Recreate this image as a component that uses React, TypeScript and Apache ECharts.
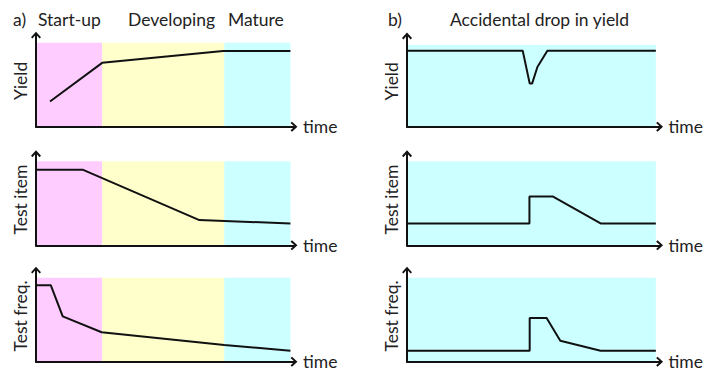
import React, { useEffect, useRef } from 'react';
import * as echarts from 'echarts';

// Phase boundaries (time units, 0..100) and styling names for panel a)
const phaseBounds = [0, 26, 74, 100];
const phaseNames = ['Start-up', 'Developing', 'Mature'];
const panelTitles = ['a)', 'b)'];
const titleB = 'Accidental drop in yield';
const yNames = ['Yield', 'Test item', 'Test freq.'];
const xName = 'time';

// Panel a) series  [time, value]
const yieldA = [[5.5, 30], [26, 76], [73.5, 90], [100, 90]];
const testItemA = [[0, 90], [18.3, 90], [64.2, 30], [100, 26]];
const testFreqA = [[0, 91], [5.8, 91], [10.5, 54], [25.8, 35], [74, 20], [100, 13]];

// Panel b) series
const yieldB = [[0, 93], [46.5, 93], [49.3, 53], [50.3, 53], [52.4, 73], [56.4, 93], [100, 93]];
const testItemB = [[0, 26], [49.2, 26], [49.2, 58], [58.7, 58], [77.8, 26], [100, 26]];
const testFreqB = [[0, 13], [49.3, 13], [49.3, 52], [56.1, 52], [61.6, 25], [77.8, 13], [100, 13]];

const PINK = '#FFCCFF';
const YELLOW = '#FFFFCC';
const CYAN = '#CCFFFF';
const INK = '#111111';
const TEXT = '#222222';
const FONT = 'Lato';
const CHEVRON = 'path://M5,0L10,5.5L8.6,6.9L5,2.9L1.4,6.9L0,5.5Z';

export default function App() {
  const ref = useRef<HTMLDivElement>(null);

  useEffect(() => {
    if (!ref.current) return;
    const chart = echarts.init(ref.current, undefined, { renderer: 'svg' });

    const grids = [
      { left: 36, top: 35.1, width: 258, height: 91.6 },
      { left: 36, top: 153.7, width: 258, height: 91.6 },
      { left: 36, top: 270.1, width: 258, height: 91.6 },
      { left: 407, top: 36, width: 257.5, height: 90.7 },
      { left: 407, top: 153.7, width: 257.5, height: 91.6 },
      { left: 407, top: 270.1, width: 257.5, height: 91.6 },
    ];
    const xMax = [101.4, 101.4, 101.4, 101.5, 101.5, 101.5];
    const yMax = [109, 109, 109, 111, 109, 109];
    const seriesData = [yieldA, testItemA, testFreqA, yieldB, testItemB, testFreqB];

    const phaseAreas = phaseNames.map((_, i) => [
      { xAxis: phaseBounds[i], yAxis: 0, itemStyle: { color: [PINK, YELLOW, CYAN][i] } },
      { xAxis: phaseBounds[i + 1], yAxis: 100 },
    ]);
    const fullArea = [[
      { xAxis: 0, yAxis: 0, itemStyle: { color: CYAN } },
      { xAxis: 100, yAxis: 100 },
    ]];

    const axisLine = {
      show: true,
      onZero: true,
      symbol: ['none', CHEVRON],
      symbolSize: [10, 8],
      lineStyle: { color: INK, width: 2 },
    };

    const titleStyle = { fontFamily: FONT, fontSize: 17.5, fill: TEXT, verticalAlign: 'middle' };

    const option: any = {
      animation: false,
      grid: grids.map((g) => ({ ...g, containLabel: false })),
      xAxis: grids.map((_, i) => ({
        gridIndex: i,
        type: 'value',
        min: 0,
        max: xMax[i],
        z: 5,
        axisLine,
        axisTick: { show: false },
        axisLabel: { show: false },
        splitLine: { show: false },
        name: xName,
        nameLocation: 'end',
        nameGap: 9,
        nameTextStyle: {
          fontFamily: FONT,
          fontSize: 17.5,
          color: TEXT,
          align: 'left',
          verticalAlign: 'middle',
          padding: [8, 0, 0, 0],
        },
      })),
      yAxis: grids.map((_, i) => ({
        gridIndex: i,
        type: 'value',
        min: 0,
        max: yMax[i],
        z: 5,
        axisLine,
        axisTick: { show: false },
        axisLabel: { show: false },
        splitLine: { show: false },
        name: yNames[i % 3],
        nameLocation: 'middle',
        nameRotate: 90,
        nameGap: 7,
        nameTextStyle: { fontFamily: FONT, fontSize: 17.5, color: TEXT },
      })),
      series: seriesData.map((d, i) => ({
        type: 'line',
        xAxisIndex: i,
        yAxisIndex: i,
        data: d,
        symbol: 'none',
        silent: true,
        lineStyle: { color: INK, width: 2 },
        markArea: { silent: true, data: i < 3 ? phaseAreas : fullArea },
      })),
      graphic: [
        { type: 'text', x: 13, y: 19, style: { ...titleStyle, text: panelTitles[0] } },
        { type: 'text', x: 38, y: 19, style: { ...titleStyle, text: phaseNames[0] } },
        { type: 'text', x: 128, y: 19, style: { ...titleStyle, text: phaseNames[1] } },
        { type: 'text', x: 228, y: 19, style: { ...titleStyle, text: phaseNames[2] } },
        { type: 'text', x: 388, y: 19, style: { ...titleStyle, text: panelTitles[1] } },
        { type: 'text', x: 450, y: 19, style: { ...titleStyle, text: titleB } },
      ],
    };

    chart.setOption(option);
    return () => chart.dispose();
  }, []);

  return (
    <div
      ref={ref}
      style={{ position: 'fixed', left: 0, top: 0, width: 704, height: 371, background: '#fff' }}
    />
  );
}
